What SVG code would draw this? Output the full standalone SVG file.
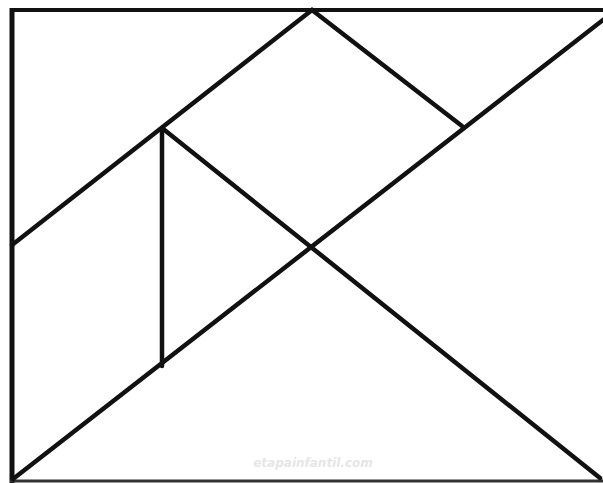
<svg xmlns="http://www.w3.org/2000/svg" width="603" height="483" viewBox="0 0 603 483">
<style>
.ln{stroke:#111;stroke-width:4.5;fill:none;stroke-linecap:round}
.fr{stroke:#111;fill:none}
.wm{font-family:"DejaVu Sans",sans-serif;font-size:12px;font-weight:bold;font-style:italic;fill:#e6e6e6}
</style>
<rect width="603" height="483" fill="#fff"/>
<g id="frame">
<line class="fr" x1="12" y1="10" x2="603" y2="10" stroke-width="4"/>
<line class="fr" x1="12" y1="8" x2="12" y2="483" stroke-width="5"/>
<line x1="10" y1="481" x2="603" y2="481" stroke="#333" stroke-width="3"/>
</g>
<g id="connectors">
<line class="ln" x1="12" y1="245" x2="312" y2="10"/>
<line class="ln" x1="312" y1="10" x2="462" y2="126"/>
<line class="ln" x1="13" y1="479" x2="603" y2="20"/>
<line class="ln" x1="162" y1="128" x2="162" y2="366"/>
<line class="ln" x1="162" y1="128" x2="600" y2="478"/>
</g>
<text class="wm" x="313" y="467" text-anchor="middle">etapainfantil.com</text>
</svg>
